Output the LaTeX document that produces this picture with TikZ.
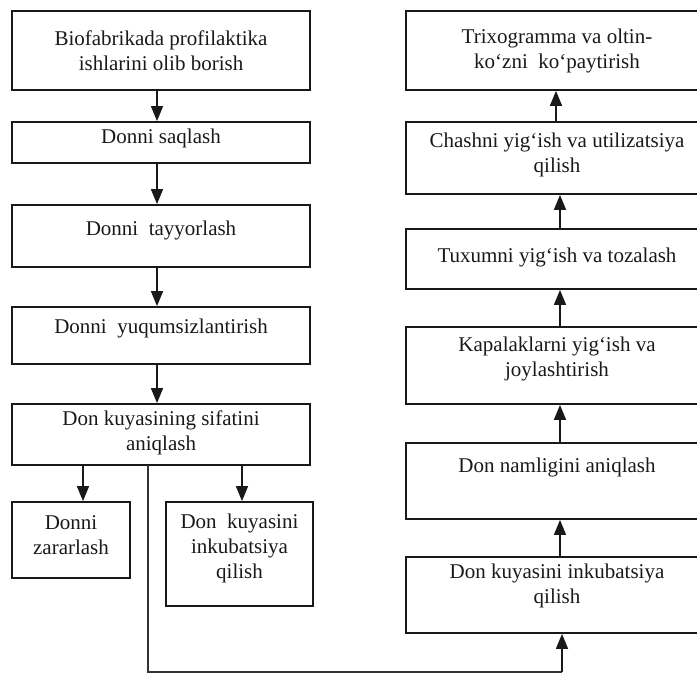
\documentclass[tikz,border=0pt]{standalone}
\usepackage{fontspec}
\setmainfont{Liberation Serif}
\usetikzlibrary{arrows.meta}
\begin{document}
\begin{tikzpicture}[x=1pt,y=-1pt,
  box/.style={draw=black!90, line width=1.8pt, inner sep=0pt},
  txt/.style={align=center, inner sep=0pt, font=\fontsize{21}{25}\selectfont, text=black!90},
  arr/.style={line width=1.5pt, draw=black!90, -{Triangle[length=15pt,width=12pt]}},
  ln/.style={line width=1.2pt, draw=black!80}]
\useasboundingbox (0,0) rectangle (697,673);
\begin{scope}
\clip (0,0) rectangle (697,673);
% left column
\node[box, minimum width=298pt, minimum height=79pt] (L1) at (161,50.5) {};
\node[box, minimum width=298pt, minimum height=41pt] (L2) at (161,142.5) {};
\node[box, minimum width=298pt, minimum height=62pt] (L3) at (161,236) {};
\node[box, minimum width=298pt, minimum height=57pt] (L4) at (161,335.5) {};
\node[box, minimum width=298pt, minimum height=61pt] (L5) at (161,434.5) {};
\node[box, minimum width=118pt, minimum height=76pt] (L6) at (71,540) {};
\node[box, minimum width=147pt, minimum height=104pt] (L7) at (239.5,554) {};
\node[txt] (L1t) at (L1.center) {Biofabrikada profilaktika\\ishlarini olib borish};
\node[txt] (L2t) at ([yshift=4pt]L2.center) {Donni saqlash};
\node[txt] (L3t) at ([yshift=6pt]L3.center) {Donni\ \ tayyorlash};
\node[txt] (L4t) at ([yshift=7pt]L4.center) {Donni\ \ yuqumsizlantirish};
\node[txt] (L5t) at ([yshift=2pt]L5.center) {Don kuyasining sifatini\\aniqlash};
\node[txt] (L6t) at ([yshift=5pt]L6.center) {Donni\\zararlash};
\node[txt] (L7t) at ([yshift=6pt]L7.center) {Don\ \ kuyasini\\inkubatsiya\\qilish};
% right column
\node[box, minimum width=308pt, minimum height=79pt] (R1) at (560,50.5) {};
\node[box, minimum width=308pt, minimum height=72pt] (R2) at (560,158) {};
\node[box, minimum width=308pt, minimum height=60pt] (R3) at (560,259) {};
\node[box, minimum width=308pt, minimum height=77pt] (R4) at (560,365.5) {};
\node[box, minimum width=308pt, minimum height=76pt] (R5) at (560,481) {};
\node[box, minimum width=308pt, minimum height=76pt] (R6) at (560,595) {};
\node[txt] (R1t) at ([xshift=-3pt]R1.center) {Trixogramma va oltin-\\ko‘zni\ \ ko‘paytirish};
\node[txt] (R2t) at ([xshift=-3pt,yshift=3pt]R2.center) {Chashni yig‘ish va utilizatsiya\\qilish};
\node[txt] (R3t) at ([xshift=-3pt,yshift=2pt]R3.center) {Tuxumni yig‘ish va tozalash};
\node[txt] (R4t) at ([xshift=-3pt,yshift=7pt]R4.center) {Kapalaklarni yig‘ish va\\joylashtirish};
\node[txt] (R5t) at ([xshift=-3pt,yshift=14pt]R5.center) {Don namligini aniqlash};
\node[txt] (R6t) at ([xshift=-3pt,yshift=9pt]R6.center) {Don kuyasini inkubatsiya\\qilish};
% left arrows
\draw[arr] ([xshift=-4pt]L1.south) -- ([xshift=-4pt]L2.north);
\draw[arr] ([xshift=-4pt]L2.south) -- ([xshift=-4pt]L3.north);
\draw[arr] ([xshift=-4pt]L3.south) -- ([xshift=-4pt]L4.north);
\draw[arr] ([xshift=-4pt]L4.south) -- ([xshift=-4pt]L5.north);
\draw[arr] ([xshift=12pt]L6.north |- L5.south) -- ([xshift=12pt]L6.north);
\draw[arr] ([xshift=2.5pt]L7.north |- L5.south) -- ([xshift=2.5pt]L7.north);
% long connector
\coordinate (c0) at (148,465);
\coordinate (c1) at (148,672);
\coordinate (c2) at (562,672);
\draw[ln] (c0) -- (c1) -- (c2);
\draw[arr] (c2) -- (R6.south -| c2);
% right arrows
\draw[arr] (R6.north) -- (R5.south);
\draw[arr] (R5.north) -- (R4.south);
\draw[arr] (R4.north) -- (R3.south);
\draw[arr] (R3.north) -- (R2.south);
\draw[arr] ([xshift=-4pt]R2.north) -- ([xshift=-4pt]R1.south);
\end{scope}
\end{tikzpicture}
\end{document}
